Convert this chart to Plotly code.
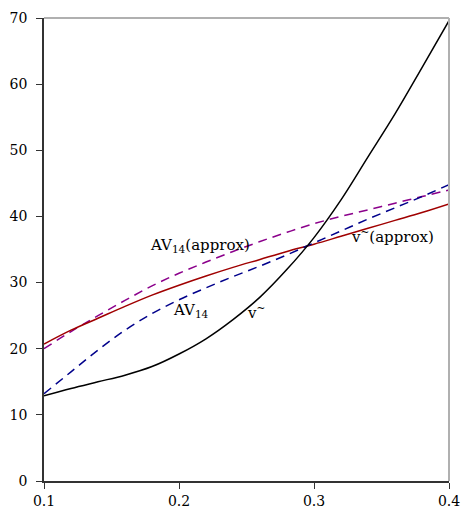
import plotly.graph_objects as go

x = [0.10, 0.12, 0.14, 0.16, 0.18, 0.20, 0.22, 0.24, 0.26, 0.28, 0.30, 0.32, 0.34, 0.36, 0.38, 0.40]
v_tilde = [12.9, 14.0, 15.0, 16.0, 17.3, 19.2, 21.5, 24.4, 27.8, 32.0, 36.8, 42.5, 49.0, 55.5, 62.5, 69.6]
av14 = [13.2, 16.5, 19.8, 22.8, 25.3, 27.4, 29.2, 30.9, 32.5, 34.2, 36.0, 37.8, 39.6, 41.3, 43.0, 44.8]
v_tilde_approx = [20.7, 22.8, 24.6, 26.4, 28.1, 29.6, 31.0, 32.3, 33.5, 34.7, 35.8, 37.0, 38.2, 39.4, 40.6, 41.9]
av14_approx = [20.0, 22.6, 25.0, 27.3, 29.5, 31.4, 33.1, 34.7, 36.2, 37.6, 38.9, 40.0, 41.0, 42.0, 43.0, 44.0]

x_ticks = [0.1, 0.2, 0.3, 0.4]
y_ticks = [0, 10, 20, 30, 40, 50, 60, 70]

font = "DejaVu Serif"

fig = go.Figure()
fig.add_trace(go.Scatter(x=x, y=av14_approx, mode="lines", line=dict(color="#8B008B", width=1.5, dash="9px,6px", shape="spline")))
fig.add_trace(go.Scatter(x=x, y=v_tilde_approx, mode="lines", line=dict(color="#A00000", width=1.5, shape="spline")))
fig.add_trace(go.Scatter(x=x, y=av14, mode="lines", line=dict(color="#00008B", width=1.5, dash="9px,6px", shape="spline")))
fig.add_trace(go.Scatter(x=x, y=v_tilde, mode="lines", line=dict(color="black", width=1.5, shape="spline")))

labels = [
    (0.2156, 35.6, "AV<sub>14</sub>(approx)"),
    (0.209, 25.8, "AV<sub>14</sub>"),
    (0.257, 25.5, "v<sup>~</sup>"),
    (0.358, 37.0, "v<sup>~</sup>(approx)"),
]
for lx, ly, t in labels:
    fig.add_annotation(x=lx, y=ly, text=t, showarrow=False, font=dict(family=font, size=15, color="black"))

fig.add_shape(type="line", xref="x domain", yref="y domain", x0=0, x1=1, y0=1, y1=1, line=dict(color="#b0b0b0", width=2))
fig.add_shape(type="line", xref="x domain", yref="y domain", x0=1, x1=1, y0=0, y1=1, line=dict(color="#b0b0b0", width=2))

fig.update_layout(
    width=461, height=508,
    margin=dict(l=44, r=12, t=18, b=27, autoexpand=False),
    paper_bgcolor="white", plot_bgcolor="white",
    showlegend=False,
    font=dict(family=font, size=14, color="black"),
    xaxis=dict(range=[0.1, 0.4], tickvals=x_ticks, ticktext=[str(v) for v in x_ticks],
               showgrid=False, zeroline=False, showline=True, linecolor="#333", linewidth=1.5,
               ticks="outside", ticklen=6, tickcolor="#333", automargin=False,
               ticklabelstandoff=0, ticklabeloverflow="allow"),
    yaxis=dict(range=[0, 70], tickvals=y_ticks, showgrid=False, zeroline=False,
               showline=True, linecolor="#333", linewidth=1.5, automargin=False,
               ticks="outside", ticklen=6, tickcolor="#333", ticklabelstandoff=6),
)

fig.write_html("out.html", config={"displayModeBar": False},
               post_script="document.body.style.margin='0';document.body.style.overflow='hidden';")
